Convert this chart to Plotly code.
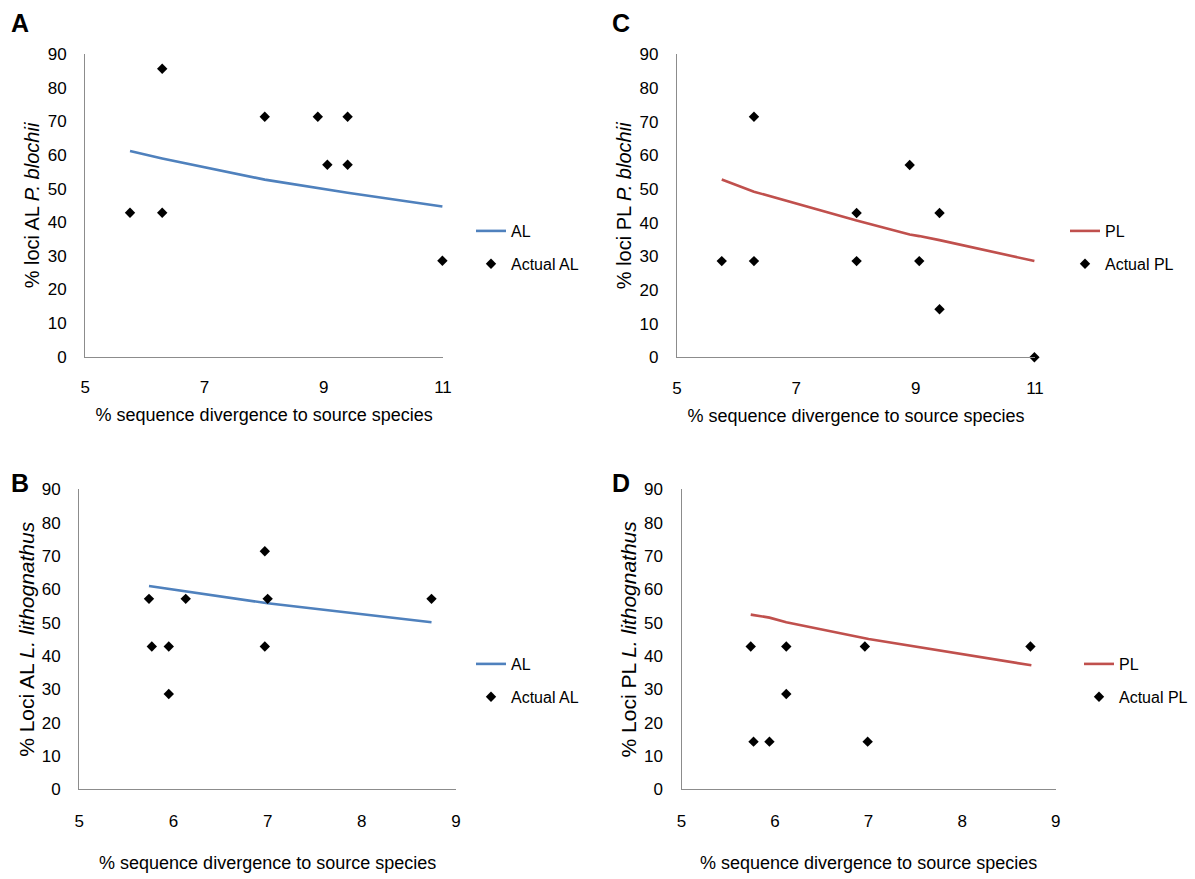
import plotly.graph_objects as go

# ---------------- data ----------------
# Panel A: AL, P. blochii
a_x = [5.75, 6.29, 6.29, 8.01, 8.90, 9.40, 9.06, 9.40, 10.99]
a_y = [42.86, 85.71, 42.86, 71.43, 71.43, 71.43, 57.14, 57.14, 28.57]
a_fit_x = [5.75, 6.29, 8.01, 8.90, 9.06, 9.40, 10.99]
a_fit_y = [61.2, 59.0, 52.7, 50.1, 49.6, 48.8, 44.7]

# Panel C: PL, P. blochii
c_x = [5.75, 6.29, 6.29, 8.01, 8.01, 8.90, 9.06, 9.40, 9.40, 10.99]
c_y = [28.57, 71.43, 28.57, 42.86, 28.57, 57.14, 28.57, 42.86, 14.29, 0.0]
c_fit_x = [5.75, 6.29, 8.01, 8.90, 9.06, 9.40, 10.99]
c_fit_y = [52.8, 49.2, 40.6, 36.5, 36.0, 34.8, 28.6]

# Panel B: AL, L. lithognathus
b_x = [5.74, 5.77, 5.95, 5.95, 6.13, 6.97, 7.00, 6.97, 8.74]
b_y = [57.14, 42.86, 42.86, 28.57, 57.14, 71.43, 57.14, 42.86, 57.14]
b_fit_x = [5.74, 5.95, 6.13, 7.00, 8.74]
b_fit_y = [61.0, 60.1, 59.5, 55.8, 50.1]

# Panel D: PL, L. lithognathus
d_x = [5.74, 6.12, 6.96, 8.73, 6.12, 5.77, 5.94, 6.99]
d_y = [42.86, 42.86, 42.86, 42.86, 28.57, 14.29, 14.29, 14.29]
d_fit_x = [5.74, 5.94, 6.12, 7.00, 8.74]
d_fit_y = [52.4, 51.5, 50.1, 45.1, 37.2]

y_ticks = [0, 10, 20, 30, 40, 50, 60, 70, 80, 90]
x_ticks_top = [5, 7, 9, 11]
x_ticks_bottom = [5, 6, 7, 8, 9]

BLUE = "#4F81BD"
RED = "#C0504D"
AXIS_COL = "#8C8C8C"
W, H = 1195, 879

fig = go.Figure()

panels = [
    ("A", a_x, a_y, a_fit_x, a_fit_y, BLUE, "AL", "x", "y", "legend"),
    ("C", c_x, c_y, c_fit_x, c_fit_y, RED, "PL", "x2", "y2", "legend2"),
    ("B", b_x, b_y, b_fit_x, b_fit_y, BLUE, "AL", "x3", "y3", "legend3"),
    ("D", d_x, d_y, d_fit_x, d_fit_y, RED, "PL", "x4", "y4", "legend4"),
]

for name, xs, ys, fx, fy, col, lab, xa, ya, lg in panels:
    fig.add_trace(go.Scatter(
        x=fx, y=fy, mode="lines", name=lab,
        line=dict(color=col, width=2.6),
        xaxis=xa, yaxis=ya, legend=lg, legendgroup=name + "1",
        cliponaxis=False, hoverinfo="skip"))
    fig.add_trace(go.Scatter(
        x=xs, y=ys, mode="markers", name="Actual " + lab,
        marker=dict(symbol="diamond", size=8, color="black"),
        xaxis=xa, yaxis=ya, legend=lg, legendgroup=name + "2",
        cliponaxis=False))

def px_x(p):
    return p / W

def px_y(p):
    return 1 - p / H

FAM = "Liberation Sans, Arial, sans-serif"
tick_font = dict(family=FAM, size=17, color="black")
xtitle_font = dict(family=FAM, size=18, color="black")

def xaxis(dom, rng, ticks, anchor, standoff_lab, standoff_title):
    return dict(domain=dom, range=rng, tickvals=ticks, ticktext=[str(t) for t in ticks],
                showline=True, linecolor=AXIS_COL, linewidth=1.3, showgrid=False,
                zeroline=False, ticks="", tickfont=tick_font, anchor=anchor,
                ticklabelstandoff=standoff_lab,
                title=dict(text="% sequence divergence to source species", font=xtitle_font,
                           standoff=standoff_title),
                automargin=False, fixedrange=True)

def yaxis(dom, anchor, title, tsize, standoff):
    return dict(domain=dom, range=[0, 90], tickvals=y_ticks, ticktext=[str(t) for t in y_ticks],
                showline=True, linecolor=AXIS_COL, linewidth=1.3, showgrid=False,
                zeroline=False, ticks="", tickfont=tick_font, anchor=anchor,
                ticklabelstandoff=14,
                title=dict(text=title, font=dict(family=FAM, size=tsize, color="black"),
                           standoff=standoff),
                automargin=False, fixedrange=True)

fig.update_layout(
    width=W, height=H, autosize=False,
    margin=dict(l=0, r=0, t=0, b=0),
    paper_bgcolor="white", plot_bgcolor="white",
    font=tick_font,
    xaxis=xaxis([px_x(85.3), px_x(443)], [5, 11], x_ticks_top, "y", 15, 12),
    yaxis=yaxis([px_y(356.7), px_y(54.3)], "x", "% loci AL <i>P. blochii</i>", 20, 2),
    xaxis2=xaxis([px_x(677), px_x(1035)], [5, 11], x_ticks_top, "y2", 15, 12),
    yaxis2=yaxis([px_y(357.3), px_y(54.3)], "x2", "% loci PL <i>P. blochii</i>", 20, 2),
    xaxis3=xaxis([px_x(79.3), px_x(456)], [5, 9], x_ticks_bottom, "y3", 16, 26),
    yaxis3=yaxis([px_y(789.3), px_y(489.3)], "x3", "% Loci AL <i>L. lithognathus</i>", 21, 1),
    xaxis4=xaxis([px_x(681.5), px_x(1055.7)], [5, 9], x_ticks_bottom, "y4", 16, 26),
    yaxis4=yaxis([px_y(789.3), px_y(489.3)], "x4", "% Loci PL <i>L. lithognathus</i>", 21, 1),
    showlegend=True,
)

def legend(xp, yp):
    return dict(x=px_x(xp), y=px_y(yp), xanchor="left", yanchor="top",
                bgcolor="rgba(0,0,0,0)", borderwidth=0,
                font=dict(family=FAM, size=16, color="black"),
                tracegroupgap=9, itemclick=False, itemdoubleclick=False)

fig.update_layout(
    legend=legend(471, 214),
    legend2=legend(1065, 214),
    legend3=legend(471, 647),
    legend4=legend(1079, 647),
)

# panel letters
for letter, xp, yp in [("A", 9, 23), ("C", 610, 23), ("B", 9, 483), ("D", 610, 483)]:
    fig.add_annotation(text="<b>" + letter + "</b>", x=px_x(xp), y=px_y(yp),
                       xref="paper", yref="paper", xanchor="left", yanchor="middle",
                       showarrow=False,
                       font=dict(family=FAM, size=25, color="black"))

fig.write_html("out.html")
